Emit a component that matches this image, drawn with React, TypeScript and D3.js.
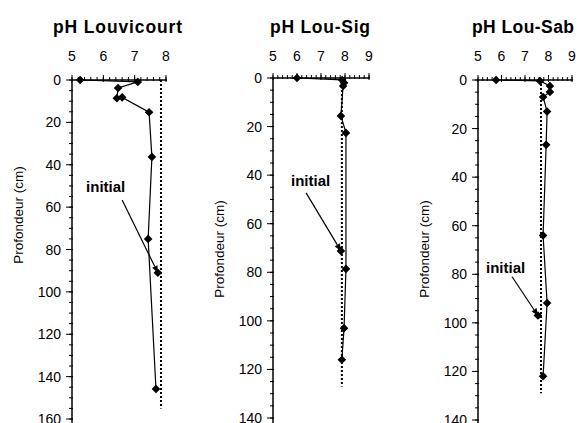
import React from "react";
import * as d3 from "d3";

// ---- data ----
const titles = ["pH Louvicourt", "pH Lou-Sig", "pH Lou-Sab"];
const xTickLabels = [[5, 6, 7, 8], [5, 6, 7, 8, 9], [5, 6, 7, 8, 9]];
const yTickLabels = [
  [0, 20, 40, 60, 80, 100, 120, 140, 160],
  [0, 20, 40, 60, 80, 100, 120, 140],
  [0, 20, 40, 60, 80, 100, 120, 140],
];

const louvicourtPH = [5.26, 7.1, 6.47, 6.43, 6.6, 7.46, 7.55, 7.43, 7.68];
const louvicourtDepth = [0, 0.9, 3.8, 8.6, 8.2, 15.2, 36.3, 75, 145.8];
const louSigPH = [6.0, 7.88, 7.96, 7.92, 7.83, 8.04, 8.04, 7.96, 7.87];
const louSigDepth = [0, 0.8, 2, 3.3, 15.6, 22.6, 78.6, 103, 116];
const louSabPH = [5.77, 7.64, 8.06, 8.06, 7.77, 7.94, 7.9, 7.77, 7.94, 7.77];
const louSabDepth = [0, 0.4, 2.5, 4.9, 7, 13, 26.7, 64, 91.8, 122];

// initial sample point (pH, depth) and initial-pH reference line
const initialPH = [7.74, 7.83, 7.55];
const initialDepth = [91, 71.2, 97];
const refLinePH = [7.84, 7.87, 7.68];
const refLineDepthEnd = [155, 127, 129];

// "initial" annotation: text anchor and arrow start in data units
const annotTextPH = [5.45, 5.75, 5.34];
const annotTextDepth = [52.9, 44.4, 79.4];
const annotArrowPH = [6.6, 6.38, 6.45];
const annotArrowDepth = [56.6, 47.3, 81];

const yLabel = "Profondeur (cm)";
const annotLabel = "initial";

const seriesPH = [louvicourtPH, louSigPH, louSabPH];
const seriesDepth = [louvicourtDepth, louSigDepth, louSabDepth];

// ---- layout ----
const panels = [
  { x0: 72, x1: 166, xMax: 8, y0: 80, y1: 419, yMax: 160, axisEnd: 168, titleX: 53, titleW: 129, yLabX: 18, yLabY: 215 },
  { x0: 273, x1: 369, xMax: 9, y0: 78, y1: 418, yMax: 140, axisEnd: 145, titleX: 270, titleW: 100, yLabX: 219, yLabY: 249 },
  { x0: 478, x1: 572, xMax: 9, y0: 80, y1: 420, yMax: 140, axisEnd: 145, titleX: 472, titleW: 102, yLabX: 424, yLabY: 249 },
];

const FONT = "'Liberation Sans', Arial, sans-serif";
const DIAMOND = "M0,-4.3L4.3,0L0,4.3L-4.3,0Z";

function Panel({ i }: { i: number }) {
  const p = panels[i];
  const x = d3.scaleLinear().domain([5, p.xMax]).range([p.x0, p.x1]);
  const y = d3.scaleLinear().domain([0, p.yMax]).range([p.y0, p.y1]);
  const pts: [number, number][] = seriesPH[i].map((v, k) => [v, seriesDepth[i][k]]);
  const line = d3.line<[number, number]>().x((d) => x(d[0])).y((d) => y(d[1]));
  const xMinor = d3.range(5, p.xMax + 0.001, 0.2);
  const yMinor = d3.range(0, p.axisEnd + 0.001, 5);
  const ax = x(annotArrowPH[i]);
  const ay = y(annotArrowDepth[i]);
  const tx = x(initialPH[i]);
  const ty = y(initialDepth[i]);
  const ang = Math.atan2(ty - ay, tx - ax);
  const hl = 7;
  const hw = 3;
  const bx = tx - hl * Math.cos(ang);
  const by = ty - hl * Math.sin(ang);
  const head = `M${tx},${ty}L${bx + hw * Math.sin(ang)},${by - hw * Math.cos(ang)}L${bx - hw * Math.sin(ang)},${by + hw * Math.cos(ang)}Z`;

  return (
    <g>
      <text x={p.titleX} y={33} fontFamily={FONT} fontWeight="bold" fontSize={17.5}
        textLength={p.titleW} lengthAdjust="spacing">{titles[i]}</text>
      {/* x axis on top */}
      <line x1={p.x0} x2={x(p.xMax) + 1} y1={p.y0} y2={p.y0} stroke="#000" strokeWidth={1.5} />
      {xMinor.map((v, k) => (
        <line key={"xm" + k} x1={x(v)} x2={x(v)} y1={p.y0 - 3} y2={p.y0 + 1} stroke="#000" strokeWidth={1} />
      ))}
      {xTickLabels[i].map((v) => (
        <g key={"xt" + v}>
          <line x1={x(v)} x2={x(v)} y1={p.y0 - 5} y2={p.y0 + 2} stroke="#000" strokeWidth={1} />
          <text x={x(v)} y={61} textAnchor="middle" fontFamily={FONT} fontSize={14}>{v}</text>
        </g>
      ))}
      {/* y axis */}
      <line x1={p.x0} x2={p.x0} y1={p.y0} y2={y(p.axisEnd)} stroke="#000" strokeWidth={1.5} />
      {yMinor.map((v, k) => (
        <line key={"ym" + k} x1={p.x0 - 3} x2={p.x0 + 1} y1={y(v)} y2={y(v)} stroke="#000" strokeWidth={1} />
      ))}
      {yTickLabels[i].map((v) => (
        <g key={"yt" + v}>
          <line x1={p.x0 - 6} x2={p.x0 + 1} y1={y(v)} y2={y(v)} stroke="#000" strokeWidth={1} />
          <text x={p.x0 - 11} y={y(v)} dy="0.36em" textAnchor="end" fontFamily={FONT} fontSize={14}>{v}</text>
        </g>
      ))}
      <text transform={`translate(${p.yLabX},${p.yLabY}) rotate(-90)`} textAnchor="middle" dy="0.36em"
        fontFamily={FONT} fontSize={13.5}>{yLabel}</text>
      {/* reference dotted line */}
      <line x1={x(refLinePH[i])} x2={x(refLinePH[i])} y1={y(0)} y2={y(refLineDepthEnd[i])}
        stroke="#000" strokeWidth={2} strokeDasharray="2,2" />
      {/* profile */}
      <path d={line(pts) || ""} fill="none" stroke="#000" strokeWidth={1.2} />
      {pts.map((d, k) => (
        <path key={"pt" + k} d={DIAMOND} transform={`translate(${x(d[0])},${y(d[1])})`} fill="#000" />
      ))}
      {/* initial point */}
      <path d={DIAMOND} transform={`translate(${tx},${ty})`} fill="#000" />
      {/* annotation */}
      <text x={x(annotTextPH[i])} y={y(annotTextDepth[i])} fontFamily={FONT} fontWeight="bold" fontSize={15}>{annotLabel}</text>
      <line x1={ax} y1={ay} x2={bx} y2={by} stroke="#000" strokeWidth={1.2} />
      <path d={head} fill="#000" />
    </g>
  );
}

export default function App() {
  return (
    <svg width={580} height={423} style={{ position: "absolute", left: 0, top: 0, background: "#fff" }}>
      <rect width={580} height={423} fill="#fff" />
      {[0, 1, 2].map((i) => (
        <Panel key={i} i={i} />
      ))}
    </svg>
  );
}
